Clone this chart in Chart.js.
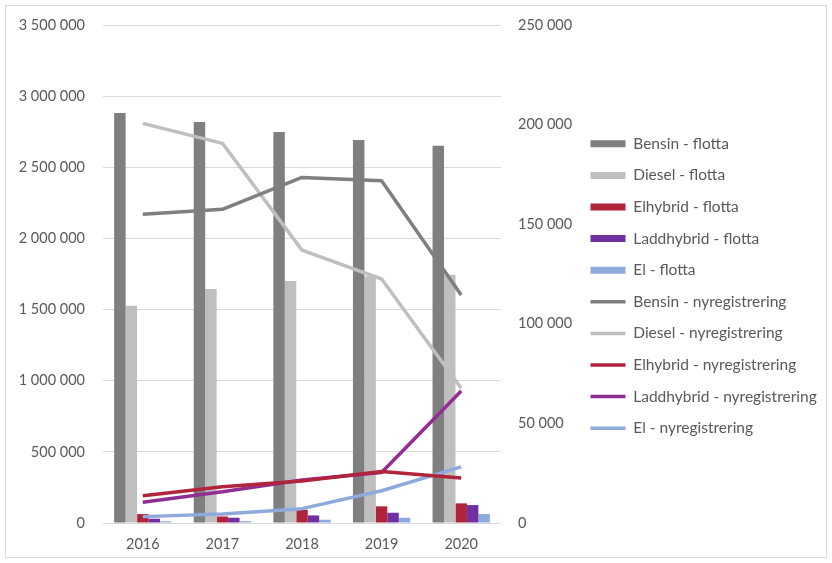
<!DOCTYPE html>
<html>
<head>
<meta charset="utf-8">
<script src="https://cdn.jsdelivr.net/npm/chart.js@4"></script>
<style>
  html, body { margin: 0; padding: 0; background: #fff; }
  #wrap { position: absolute; left: 5px; top: 5px; width: 820px; height: 551px; border: 1px solid #d9d9d9; }
</style>
</head>
<body>
<div id="wrap"><canvas id="fleetChart" width="820" height="551"></canvas></div>
<script>
// years on the x axis
const years = ['2016', '2017', '2018', '2019', '2020'];

// vehicle fleet (left axis)
const bensinFlotta = [2881000, 2818000, 2748000, 2692000, 2651000];
const dieselFlotta = [1527000, 1644000, 1700000, 1735000, 1745000];
const elhybridFlotta = [63000, 46000, 93000, 117000, 138000];
const laddhybridFlotta = [30000, 37000, 53000, 72000, 126000];
const elFlotta = [12000, 13000, 23000, 37000, 63000];

// new registrations (right axis)
const bensinNy = [155000, 157500, 173500, 171800, 114500];
const dieselNy = [200600, 190600, 137000, 122500, 67600];
const elhybridNy = [13700, 18200, 21100, 25800, 22600];
const laddhybridNy = [10400, 15700, 21600, 25400, 66300];
const elNy = [3200, 4500, 7200, 16200, 28200];

// axis ticks
const leftTicks = [0, 500000, 1000000, 1500000, 2000000, 2500000, 3000000, 3500000];
const rightTicks = [0, 50000, 100000, 150000, 200000, 250000];

const spaced = v => String(v).replace(/\B(?=(\d{3})+(?!\d))/g, ' ');
const textColor = '#595959';
const family = 'Lato, "Open Sans", sans-serif';
const tickFont = { family, size: 14.5 };
const legendFont = { family, size: 15.5 };

function bar(label, data, color) {
  return { type: 'bar', label, data, backgroundColor: color, borderWidth: 0,
    yAxisID: 'y', order: 1, pointStyle: 'rect',
    categoryPercentage: 0.72, barPercentage: 1 };
}
function line(label, data, color) {
  return { type: 'line', label, data, borderColor: color, backgroundColor: color,
    borderWidth: 3.5, pointRadius: 0, pointStyle: 'line', tension: 0,
    borderJoinStyle: 'round', yAxisID: 'y1', order: 0 };
}

const ctx = document.getElementById('fleetChart').getContext('2d');
new Chart(ctx, {
  data: {
    labels: years,
    datasets: [
      bar('Bensin - flotta', bensinFlotta, '#7f7f7f'),
      bar('Diesel - flotta', dieselFlotta, '#bfbfbf'),
      bar('Elhybrid - flotta', elhybridFlotta, '#b0233b'),
      bar('Laddhybrid - flotta', laddhybridFlotta, '#7030a0'),
      bar('El - flotta', elFlotta, '#8eaadc'),
      line('Bensin - nyregistrering', bensinNy, '#7f7f7f'),
      line('Diesel - nyregistrering', dieselNy, '#bfbfbf'),
      line('Elhybrid - nyregistrering', elhybridNy, '#b2243b'),
      line('Laddhybrid - nyregistrering', laddhybridNy, '#902e94'),
      line('El - nyregistrering', elNy, '#8eaadc')
    ]
  },
  options: {
    responsive: false,
    animation: false,
    layout: { padding: { top: 9, left: 0, right: 0, bottom: 0 } },
    plugins: {
      tooltip: { enabled: false },
      legend: {
        position: 'right',
        maxWidth: 251.6,
        labels: {
          usePointStyle: true,
          pointStyleWidth: 35,
          boxHeight: 7,
          padding: 16.1,
          color: textColor,
          font: legendFont,
          sort: (a, b) => a.datasetIndex - b.datasetIndex
        }
      }
    },
    scales: {
      x: {
        grid: { display: false, drawTicks: false },
        border: { display: false },
        ticks: { color: textColor, font: tickFont, padding: 13 },
        afterFit: s => { s.height = 34; }
      },
      y: {
        position: 'left',
        min: 0, max: 3500000,
        afterBuildTicks: s => { s.ticks = leftTicks.map(v => ({ value: v })); },
        grid: { color: '#d9d9d9', lineWidth: 1, drawTicks: true, tickLength: 7.7, tickColor: 'rgba(0,0,0,0)' },
        border: { display: false },
        ticks: { color: textColor, font: tickFont, padding: 10.3, callback: v => spaced(v) },
        afterFit: s => { s.width = 97; }
      },
      y1: {
        position: 'right',
        min: 0, max: 250000,
        afterBuildTicks: s => { s.ticks = rightTicks.map(v => ({ value: v })); },
        grid: { drawOnChartArea: false, drawTicks: true, tickLength: 6.7, tickColor: 'rgba(0,0,0,0)' },
        border: { display: false },
        ticks: { color: textColor, font: tickFont, padding: 10.3, callback: v => spaced(v) },
        afterFit: s => { s.width = 73.4; }
      }
    }
  }
});
</script>
</body>
</html>
